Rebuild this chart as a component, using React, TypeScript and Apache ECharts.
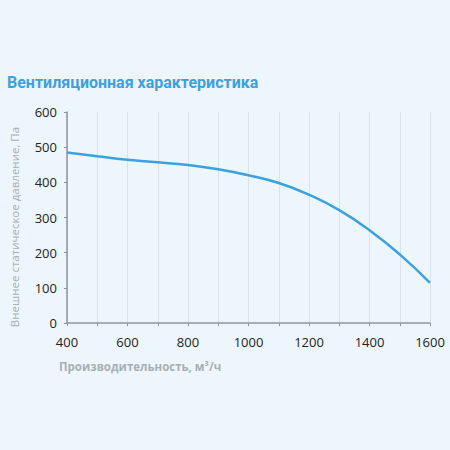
import * as echarts from "echarts";
import { useEffect, useRef } from "react";

const flowRates = [400, 500, 600, 700, 800, 900, 1000, 1100, 1200, 1300, 1400, 1500, 1600];
const pressures = [485, 474, 464, 457, 449, 437, 420, 398, 365, 321, 264, 195, 114];

const titleText = "Вентиляционная характеристика";
const xAxisName = "Производительность, м³/ч";
const yAxisName = "Внешнее статическое давление, Па";

export default function App() {
  const chartRef = useRef<HTMLDivElement | null>(null);

  useEffect(() => {
    if (!chartRef.current) return;
    const chart = echarts.init(chartRef.current, undefined, { renderer: "svg" });

    chart.setOption({
      animation: false,
      backgroundColor: "#eef6fd",
      title: {
        text: titleText,
        left: 2,
        top: 69,
        textStyle: { color: "#3ba0e2", fontSize: 16, fontWeight: "bold", fontFamily: "Roboto" },
      },
      grid: { left: 67, right: 20, top: 112, bottom: 127, outerBoundsMode: "none", containLabel: false },
      xAxis: {
        type: "value" as const,
        min: 400,
        max: 1600,
        interval: 100,
        axisLine: { lineStyle: { color: "#8e959c", width: 1.5 } },
        axisTick: { show: true, length: 3, lineStyle: { color: "#8e959c" } },
        axisLabel: {
          color: "#222",
          fontSize: 13,
          fontFamily: "Open Sans",
          margin: 12,
          formatter: (v: number) => (v % 200 === 0 ? String(v) : ""),
        },
        splitLine: { show: true, lineStyle: { color: "#d9e3ec", width: 1 } },
      },
      yAxis: {
        type: "value" as const,
        min: 0,
        max: 600,
        interval: 100,
        axisLine: { show: true, lineStyle: { color: "#8e959c", width: 1.5 } },
        axisTick: { show: true, length: 3, lineStyle: { color: "#8e959c" } },
        axisLabel: { color: "#222", fontSize: 13, fontFamily: "Open Sans", margin: 10 },
        splitLine: { show: false },
      },
      graphic: [
        {
          type: "text",
          left: 59,
          top: 360,
          style: {
            text: xAxisName,
            fill: "#a7afb6",
            fontSize: 11.5,
            fontWeight: "bold",
            fontFamily: "Open Sans",
          },
        },
        {
          type: "text",
          x: 14,
          y: 227,
          rotation: Math.PI / 2,
          style: {
            text: yAxisName,
            fill: "#a7afb6",
            fontSize: 11.5,
            fontFamily: "Open Sans",
            align: "center",
            verticalAlign: "middle",
          },
        },
      ],
      series: [
        {
          type: "line",
          smooth: true,
          showSymbol: false,
          lineStyle: { color: "#3aa2df", width: 2.5 },
          data: flowRates.map((x, i) => [x, pressures[i]]),
        },
      ],
    });

    return () => {
      chart.dispose();
    };
  }, []);

  return (
    <div
      ref={chartRef}
      style={{ position: "fixed", left: 0, top: 0, width: 450, height: 450 }}
    />
  );
}
